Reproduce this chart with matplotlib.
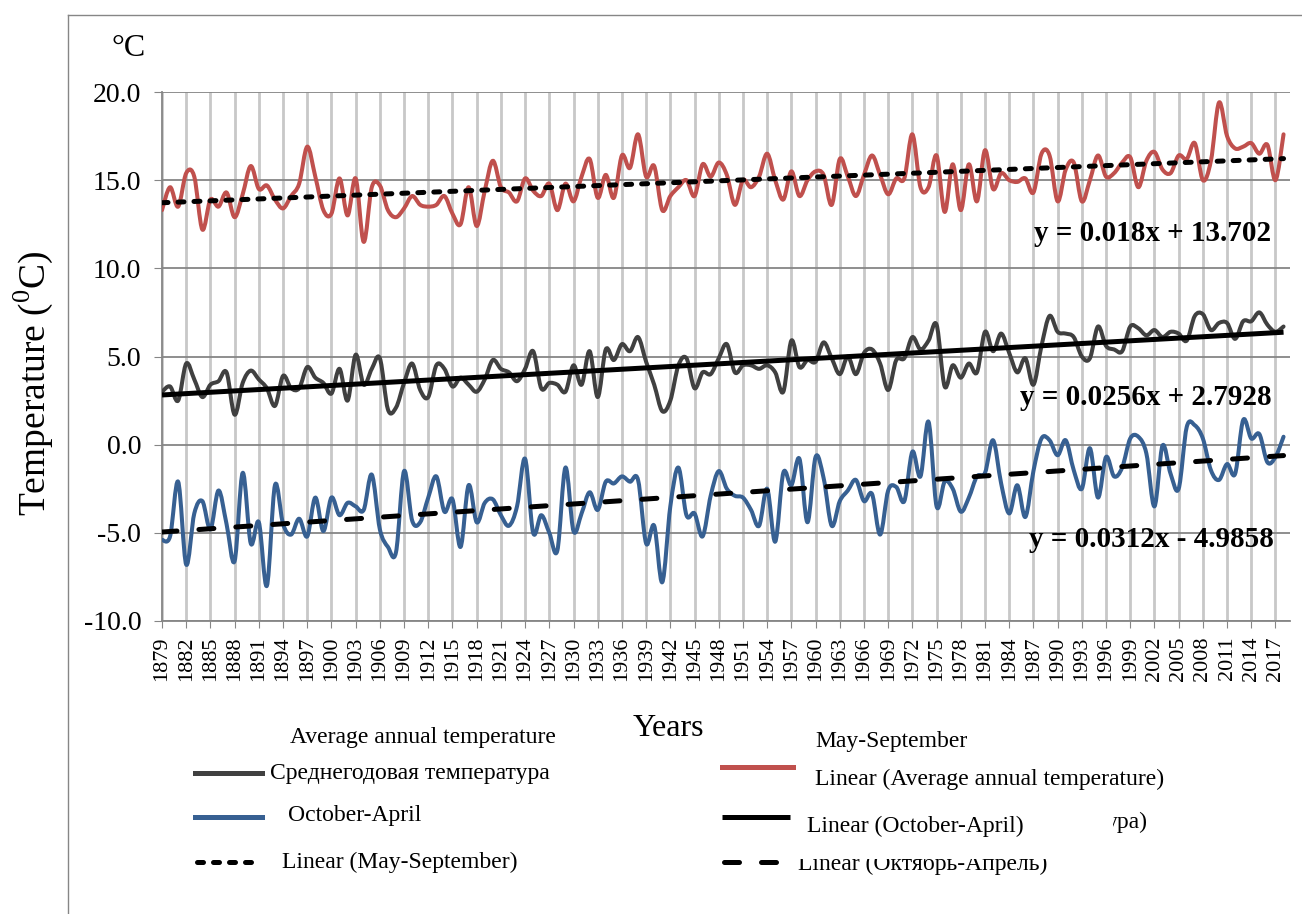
import numpy as np
import matplotlib
matplotlib.use("Agg")
import matplotlib.pyplot as plt
from matplotlib.lines import Line2D
from matplotlib.path import Path
from matplotlib.patches import PathPatch, Rectangle

plt.rcParams['font.family'] = ['Liberation Serif', 'DejaVu Serif']
plt.rcParams['mathtext.fontset'] = 'custom'
plt.rcParams['mathtext.rm'] = 'Liberation Serif'
plt.rcParams['axes.unicode_minus'] = False

# data, 1879-2018
years = list(range(1879, 2019))

may_sep = [
    13.3, 14.6, 13.5, 15.4, 15.2, 12.2, 13.9, 13.5, 14.3, 12.9,
    14.2, 15.8, 14.5, 14.7, 13.9, 13.4, 14.1, 14.8, 16.9, 15.2,
    13.3, 13.1, 15.1, 13.0, 15.1, 11.5, 14.6, 14.7, 13.3, 12.9,
    13.4, 14.1, 13.6, 13.5, 13.6, 14.1, 13.1, 12.5, 14.6, 12.4,
    14.4, 16.1, 14.6, 14.3, 13.8, 15.1, 14.4, 14.1, 14.8, 13.3,
    14.8, 13.8, 15.2, 16.2, 14.0, 15.3, 14.0, 16.4, 15.7, 17.6,
    15.2, 15.8, 13.3, 14.1, 14.6, 15.0, 14.1, 15.9, 15.2, 16.0,
    15.3, 13.6, 15.0, 14.6, 15.2, 16.5, 15.0, 13.9, 15.5, 14.1,
    15.0, 15.5, 15.3, 13.6, 16.2, 15.2, 14.1, 15.3, 16.4, 15.3,
    14.2, 15.1, 15.1, 17.6, 14.6, 14.6, 16.4, 13.2, 15.9, 13.3,
    15.9, 13.8, 16.7, 14.5, 15.4, 15.0, 14.9, 15.1, 14.3, 16.5,
    16.4, 13.8, 15.6, 16.0, 13.8, 15.0, 16.4, 15.2, 15.4, 16.0,
    16.3, 14.6, 16.1, 16.6, 15.6, 15.4, 16.4, 16.2, 17.1, 15.0,
    16.1, 19.4, 17.5, 16.8, 16.9, 17.1, 16.5, 17.0, 15.0, 17.6,
]

annual = [
    3.0, 3.3, 2.5, 4.6, 3.7, 2.7, 3.4, 3.6, 4.1, 1.7,
    3.5, 4.2, 3.7, 3.2, 2.2, 3.9, 3.2, 3.2, 4.4, 3.8,
    3.5, 2.9, 4.3, 2.5, 5.1, 3.4, 4.3, 4.9, 2.0, 2.1,
    3.5, 4.6, 3.1, 2.7, 4.5, 4.3, 3.3, 3.8, 3.4, 3.0,
    3.7, 4.8, 4.3, 4.1, 3.6, 4.3, 5.3, 3.2, 3.5, 3.4,
    3.0, 4.5, 3.4, 5.3, 2.7, 5.4, 4.8, 5.7, 5.3, 6.1,
    4.7, 3.4, 1.9, 2.5, 4.5, 4.9, 3.2, 4.1, 4.0, 4.9,
    5.7, 4.1, 4.5, 4.5, 4.3, 4.5, 4.1, 3.0, 5.9, 4.4,
    4.8, 4.7, 5.8, 4.9, 4.0, 5.0, 4.0, 5.2, 5.4, 4.6,
    3.1, 4.8, 4.9, 6.1, 5.4, 5.9, 6.8, 3.3, 4.5, 3.8,
    4.6, 4.1, 6.4, 5.3, 6.3, 5.2, 4.1, 4.9, 3.4, 5.6,
    7.3, 6.4, 6.3, 6.1, 5.0, 4.9, 6.7, 5.6, 5.4, 5.3,
    6.7, 6.6, 6.2, 6.5, 6.1, 6.4, 6.3, 5.9, 7.3, 7.4,
    6.5, 6.9, 6.9, 6.0, 7.0, 7.0, 7.5, 6.8, 6.4, 6.7,
]

oct_apr = [
    -5.4, -5.2, -2.1, -6.8, -3.9, -3.2, -4.8, -2.6, -4.5, -6.6,
    -1.6, -5.6, -4.4, -8.0, -2.3, -4.5, -5.1, -4.2, -5.2, -3.0,
    -4.9, -3.0, -4.0, -3.3, -3.5, -3.7, -1.7, -4.8, -5.8, -6.1,
    -1.5, -4.3, -4.4, -3.0, -1.8, -3.8, -3.1, -5.8, -2.3, -4.4,
    -3.3, -3.1, -4.0, -4.6, -3.5, -0.8, -5.0, -4.0, -5.0, -6.0,
    -1.3, -4.9, -3.9, -2.7, -3.7, -2.1, -2.2, -1.8, -2.1, -2.0,
    -5.6, -4.6, -7.8, -3.5, -1.3, -4.0, -3.9, -5.2, -2.9, -1.5,
    -2.5, -2.9, -3.0, -3.7, -4.6, -2.5, -5.5, -1.6, -2.3, -0.8,
    -4.4, -0.7, -1.9, -4.6, -3.2, -2.6, -2.0, -3.2, -2.8, -5.1,
    -2.6, -2.4, -3.2, -0.4, -1.8, 1.3, -3.5, -2.1, -2.5, -3.8,
    -3.0, -1.8, -1.6, 0.25, -2.2, -3.9, -2.3, -4.1, -1.5, 0.35,
    0.25, -0.6, 0.25, -1.45, -2.5, -0.2, -3.0, -0.7, -1.8, -1.3,
    0.35, 0.45, -0.5, -3.5, -0.05, -1.65, -2.5, 1.0, 1.1, 0.35,
    -1.45, -2.0, -1.1, -1.65, 1.4, 0.35, 0.6, -1.0, -0.7, 0.45,
]

# trend equations printed on the chart (x = 1 .. n)
trend_may_sep = (0.018, 13.702)
trend_annual = (0.0256, 2.7928)
trend_oct_apr = (0.0312, -4.9858)

year_ticks = years[::3]
y_ticks = [20.0, 15.0, 10.0, 5.0, 0.0, -5.0, -10.0]

RED = "#C0504D"
GRAY = "#404040"
BLUE = "#376092"

W, H = 1302, 914
fig = plt.figure(figsize=(W / 100, H / 100), dpi=100)
ax = fig.add_axes([162 / W, 1 - 621 / H, (1290 - 162) / W, (621 - 92) / H])


def fx(px):
    return px / W


def fy(py):
    return 1 - py / H


def smooth_line(ax, xs, ys, color, lw):
    # Excel-style smoothed line: cubic Bezier through every data point
    xs = np.asarray(xs, float)
    ys = np.asarray(ys, float)
    n = len(xs)
    verts = [(xs[0], ys[0])]
    codes = [Path.MOVETO]
    for i in range(n - 1):
        p0 = max(i - 1, 0)
        p3 = min(i + 2, n - 1)
        c1 = (xs[i] + (xs[i + 1] - xs[p0]) / 6, ys[i] + (ys[i + 1] - ys[p0]) / 6)
        c2 = (xs[i + 1] - (xs[p3] - xs[i]) / 6, ys[i + 1] - (ys[p3] - ys[i]) / 6)
        verts += [c1, c2, (xs[i + 1], ys[i + 1])]
        codes += [Path.CURVE4] * 3
    patch = PathPatch(Path(verts, codes), fill=False, edgecolor=color, lw=lw,
                      joinstyle='round', capstyle='round', zorder=3)
    ax.add_patch(patch)


x = np.array(years)
idx = np.arange(1, len(years) + 1)

smooth_line(ax, x, may_sep, RED, 2.9)
smooth_line(ax, x, annual, GRAY, 2.9)
smooth_line(ax, x, oct_apr, BLUE, 2.9)

ax.plot(x, trend_may_sep[0] * idx + trend_may_sep[1], color='black', lw=3.6,
        dashes=(1.2, 2.0), dash_capstyle='round', zorder=4)
ax.plot(x, trend_annual[0] * idx + trend_annual[1], color='black', lw=3.6,
        solid_capstyle='butt', zorder=4)
ax.plot(x, trend_oct_apr[0] * idx + trend_oct_apr[1], color='black', lw=3.6,
        dashes=(3.0, 4.4), dash_capstyle='round', zorder=4)

ax.set_xlim(1879, 2018.8)
ax.set_ylim(-10, 20)
ax.set_xticks(year_ticks)
ax.set_xticklabels([str(y) for y in year_ticks], rotation=90, fontsize=16)
ax.set_yticks(y_ticks)
ax.set_yticklabels([f"{v:.1f}" for v in y_ticks], fontsize=20)
ax.tick_params(axis='x', length=5, pad=6, color='#868686')
ax.tick_params(axis='y', length=6, pad=9, color='#868686')

ax.grid(axis='y', color='#868686', lw=1.3)
ax.grid(axis='x', color='#C8C8C8', lw=2.0)
ax.set_axisbelow(True)
for side in ['top', 'right']:
    ax.spines[side].set_visible(False)
ax.spines['left'].set_color('#868686')
ax.spines['bottom'].set_color('#868686')
ax.spines['left'].set_linewidth(1.3)
ax.spines['bottom'].set_linewidth(1.3)

eq_font = dict(fontsize=21, fontweight='bold', ha='right', va='center', zorder=5)
ax.text(2016.5, 12.0, "y = 0.018x + 13.702", **eq_font)
ax.text(2016.5, 2.67, "y = 0.0256x + 2.7928", **eq_font)
ax.text(2016.8, -5.4, "y = 0.0312x - 4.9858", **eq_font)

# labels
fig.text(fx(129), fy(48), "°C", fontsize=23, ha='center', va='center')
fig.text(fx(33), fy(383), r"Temperature ($^{0}$C)", fontsize=27, rotation=90,
         ha='center', va='center')
fig.text(fx(668), fy(728), "Years", fontsize=23, ha='center', va='center')

# outer frame lines
fig.add_artist(Line2D([fx(68), fx(68)], [fy(15), 0], transform=fig.transFigure,
                      color='#868686', lw=1.0))
fig.add_artist(Line2D([fx(68), 1], [fy(15), fy(15)], transform=fig.transFigure,
                      color='#868686', lw=1.0))

# legend, laid out as in the source chart
leg_fs = 17


def leg_line(x0, x1, y, color, **kw):
    fig.add_artist(Line2D([fx(x0), fx(x1)], [fy(y), fy(y)], transform=fig.transFigure,
                          color=color, lw=3.6, **kw))


def leg_text(x0, y, s, **kw):
    return fig.text(fx(x0), fy(y), s, fontsize=leg_fs, ha='left', va='center', **kw)


leg_text(290, 737, "Average annual temperature")
leg_line(195, 262, 773, GRAY)
leg_text(270, 773, "Среднегодовая температура")
leg_line(195, 262, 817, BLUE)
leg_text(288, 815, "October-April")
leg_line(197, 258, 862, 'black', dashes=(1.2, 2.0), dash_capstyle='round')
leg_text(282, 862, "Linear (May-September)")

leg_text(815, 741, "May-September")
leg_line(722, 793, 767, RED)
leg_text(815, 779, "Linear (Average annual temperature)")
leg_line(722, 790, 817, 'black', solid_capstyle='butt')
leg_text(807, 826, "Linear (October-April)")
leg_text(1106, 822, "ура)")
leg_line(724, 780, 862, 'black', dashes=(3.0, 4.4), dash_capstyle='round')
leg_text(798, 864, "Linear (Октябрь-Апрель)")

# white bands hiding parts of overlapped legend entries, as in the source
fig.add_artist(Rectangle((fx(795), fy(859)), fx(1070) - fx(795), fy(840) - fy(859),
                         transform=fig.transFigure, facecolor='white',
                         edgecolor='none', zorder=10))
fig.add_artist(Rectangle((fx(1100), fy(840)), fx(1113) - fx(1100), fy(805) - fy(840),
                         transform=fig.transFigure, facecolor='white',
                         edgecolor='none', zorder=10))

fig.savefig("out.png", dpi=100)
